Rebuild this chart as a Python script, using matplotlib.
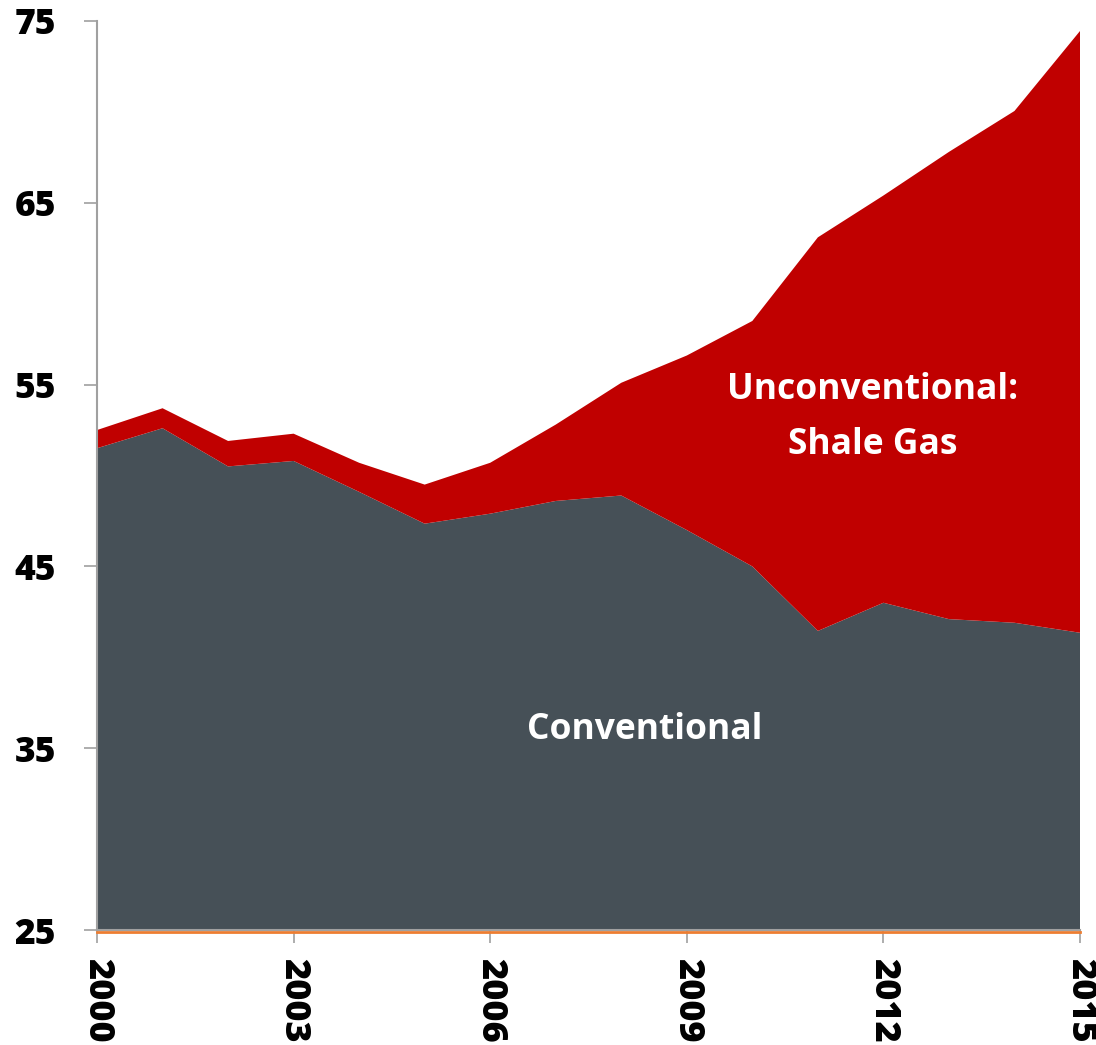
import matplotlib
matplotlib.use('Agg')
import numpy as np
import matplotlib.pyplot as plt
from matplotlib import transforms

# Producao anual por tipo de fonte
anos = [2000, 2001, 2002, 2003, 2004, 2005, 2006, 2007,
        2008, 2009, 2010, 2011, 2012, 2013, 2014, 2015]
convencional = [51.5, 52.6, 50.5, 50.8, 49.1, 47.35, 47.9, 48.6,
                48.9, 47.0, 45.0, 41.45, 43.0, 42.1, 41.9, 41.35]
total = [52.5, 53.7, 51.9, 52.3, 50.7, 49.5, 50.7, 52.8,
         55.1, 56.6, 58.5, 63.1, 65.4, 67.8, 70.05, 74.45]
xisto = [t - c for t, c in zip(total, convencional)]

ticks_x = [2000, 2003, 2006, 2009, 2012, 2015]
ticks_y = [25, 35, 45, 55, 65, 75]

cor_conv = '#465057'
cor_xisto = '#C00000'
fonte = 'Open Sans'

fig = plt.figure(figsize=(10.96, 10.45), dpi=100)
ax = fig.add_axes([97/1096, 115/1045, 983/1096, 909/1045])

ax.stackplot(anos, convencional, xisto, colors=[cor_conv, cor_xisto],
             baseline='zero', linewidth=0)
# linha laranja logo abaixo do eixo x
desloc = transforms.offset_copy(ax.get_yaxis_transform(), fig=fig,
                                x=0, y=-1.6, units='points')
ax.plot([0, 1], [25, 25], color='#ED7D31', lw=2.0, transform=desloc,
        clip_on=False, zorder=3)

ax.set_xlim(2000, 2015)
ax.set_ylim(25, 75)
ax.set_xticks(ticks_x)
ax.set_yticks(ticks_y)
ax.set_xticklabels([str(a) for a in ticks_x], rotation=270,
                   fontsize=26, fontweight=800, family=fonte)
ax.set_yticklabels([str(v) for v in ticks_y],
                   fontsize=25.5, fontweight=800, family=fonte)

for lado in ['top', 'right']:
    ax.spines[lado].set_visible(False)
for lado in ['left', 'bottom']:
    ax.spines[lado].set_color('#A0A0A0')
    ax.spines[lado].set_linewidth(1.5)
    ax.spines[lado].set_zorder(4)
ax.tick_params(axis='x', length=9.5, width=1.2, color='#A0A0A0', pad=11)
ax.tick_params(axis='y', length=9.5, width=1.2, color='#A0A0A0', pad=20)

ax.text(2011.83, 53.2, 'Unconventional:\nShale Gas', color='white',
        fontsize=25.5, fontweight='bold', family=fonte,
        ha='center', va='center', linespacing=1.7)
ax.text(2008.36, 36.0, 'Conventional', color='white',
        fontsize=25.5, fontweight='bold', family=fonte,
        ha='center', va='center')

fig.savefig('out.png', dpi=100)
